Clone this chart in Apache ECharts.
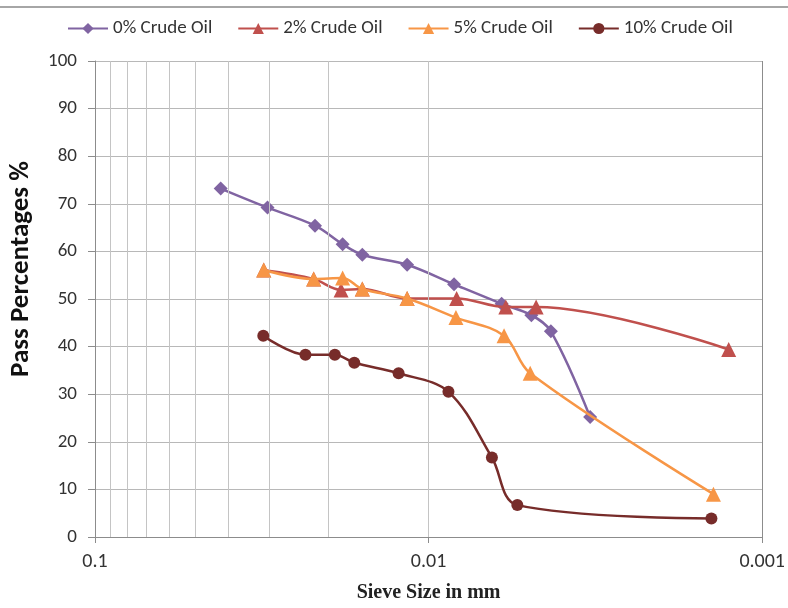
<!DOCTYPE html>
<html>
<head>
<meta charset="utf-8">
<script src="https://cdn.jsdelivr.net/npm/echarts@6/dist/echarts.min.js"></script>
<style>html,body{margin:0;padding:0;background:#fff;overflow:hidden;}#c{width:788px;height:608px;}</style>
</head>
<body>
<div id="c"></div>
<script>
var seriesNames = ['0% Crude Oil', '2% Crude Oil', '5% Crude Oil', '10% Crude Oil'];

var size0 = [0.0420, 0.0304, 0.0219, 0.0181, 0.0158, 0.0116, 0.00839, 0.00604, 0.00492, 0.00430, 0.00328];
var pass0 = [73.2, 69.2, 65.4, 61.5, 59.3, 57.2, 53.1, 49.0, 46.6, 43.2, 25.2];

var size2 = [0.0312, 0.0221, 0.0183, 0.0158, 0.0116, 0.00824, 0.00587, 0.00476, 0.00126];
var pass2 = [56.1, 54.2, 51.9, 52.1, 50.1, 50.1, 48.3, 48.3, 39.4];

var size5 = [0.0312, 0.0221, 0.0181, 0.0158, 0.0116, 0.00828, 0.00594, 0.00496, 0.00140];
var pass5 = [56.1, 54.2, 54.4, 52.1, 50.1, 46.1, 42.3, 34.4, 9.0];

var size10 = [0.0313, 0.0234, 0.0191, 0.0167, 0.0123, 0.00872, 0.00646, 0.00542, 0.00142];
var pass10 = [42.3, 38.3, 38.3, 36.6, 34.4, 30.5, 16.7, 6.7, 3.9];

var xTickLabels = ['0.1', '0.01', '0.001'];
var yTicks = [0, 10, 20, 30, 40, 50, 60, 70, 80, 90, 100];
var minorGridValues = [0.09, 0.08, 0.07, 0.06, 0.05, 0.04, 0.03, 0.02,
                       0.009, 0.008, 0.007, 0.006, 0.005, 0.004, 0.003, 0.002];

function pairs(xs, ys) { return xs.map(function (x, i) { return [x, ys[i]]; }); }

var colors = ['#8064A2', '#C0504D', '#F79646', '#772C2A'];
var symbols = ['diamond', 'triangle', 'triangle', 'circle'];
var symbolSizes = [14, 15, 15, 12];
var datasets = [pairs(size0, pass0), pairs(size2, pass2), pairs(size5, pass5), pairs(size10, pass10)];

var series = [{
  name: 'grid-minor',
  type: 'line',
  data: [],
  z: 1,
  silent: true,
  markLine: {
    silent: true,
    symbol: ['none', 'none'],
    label: { show: false },
    animation: false,
    lineStyle: { color: '#c4c4c4', width: 1, type: 'solid' },
    data: minorGridValues.map(function (v) { return { xAxis: v }; })
  }
}];
seriesNames.forEach(function (n, i) {
  series.push({
    name: n,
    type: 'line',
    data: datasets[i],
    smooth: 0.35,
    symbol: symbols[i],
    symbolSize: symbolSizes[i],
    z: 3 + i,
    lineStyle: { color: colors[i], width: 2.5 },
    itemStyle: { color: colors[i] },
    animation: false
  });
});

var chart = echarts.init(document.getElementById('c'), null, { renderer: 'canvas' });
chart.setOption({
  backgroundColor: '#ffffff',
  animation: false,
  graphic: [{
    type: 'line',
    shape: { x1: 0, y1: 7, x2: 788, y2: 7 },
    style: { stroke: '#a6a6a6', lineWidth: 2 }
  }],
  legend: {
    data: seriesNames,
    top: 14,
    left: 62,
    itemWidth: 40,
    itemHeight: 14,
    itemGap: 25,
    textStyle: { fontFamily: 'Carlito', fontSize: 19, color: '#333' }
  },
  grid: { left: 91, right: 19, top: 61, bottom: 65, containLabel: false },
  xAxis: {
    type: 'log',
    logBase: 10,
    min: 0.001,
    max: 0.1,
    inverse: true,
    name: 'Sieve Size in mm',
    nameLocation: 'middle',
    nameGap: 46,
    nameTextStyle: { fontFamily: 'Liberation Serif', fontWeight: 'bold', fontSize: 20, color: '#222' },
    axisLine: { show: true, lineStyle: { color: '#8c8c8c', width: 1 } },
    axisTick: { show: true, length: 6, lineStyle: { color: '#8c8c8c' } },
    axisLabel: {
      margin: 15,
      fontFamily: 'Carlito',
      fontSize: 20,
      color: '#333',
      formatter: function (v) {
        var e = Math.round(Math.log10(v));
        return xTickLabels[-1 - e] || '';
      }
    },
    splitLine: { show: true, lineStyle: { color: '#8c8c8c', width: 1 } }
  },
  yAxis: {
    type: 'value',
    min: 0,
    max: 100,
    interval: 10,
    name: 'Pass Percentages %',
    nameLocation: 'middle',
    nameRotate: 90,
    nameGap: 60,
    nameTextStyle: { fontFamily: 'Carlito', fontWeight: 'bold', fontSize: 27, color: '#111', padding: [0, 0, 0, 60] },
    axisLine: { show: true, lineStyle: { color: '#8c8c8c', width: 1 } },
    axisTick: { show: true, length: 7, lineStyle: { color: '#8c8c8c' } },
    axisLabel: {
      margin: 18,
      fontFamily: 'Carlito',
      fontSize: 19,
      color: '#333',
      formatter: function (v) { return yTicks.indexOf(v) >= 0 ? String(v) : ''; }
    },
    splitLine: { show: true, lineStyle: { color: '#b8b8b8', width: 1 } }
  },
  series: series
});
</script>
</body>
</html>
